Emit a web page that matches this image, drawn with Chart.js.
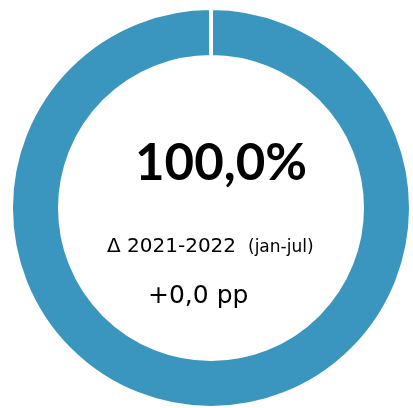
<!DOCTYPE html>
<html>
<head>
<meta charset="utf-8">
<script src="https://cdn.jsdelivr.net/npm/chart.js@4.4.0/dist/chart.umd.min.js"></script>
<style>
  html, body { margin: 0; padding: 0; background: #fff; overflow: hidden; }
  #wrap { width: 413px; height: 420px; }
</style>
</head>
<body>
<div id="wrap"><canvas id="ring"></canvas></div>
<script>
const labels = ['Participação', 'Restante'];
const shares = [100.0, 0.0];
const mainText = '100,0%';
const deltaText = '\u0394 2021-2022';
const periodText = '(jan-jul)';
const changeText = '+0,0 pp';

// center labels drawn over the hole
const centerText = {
  id: 'centerText',
  afterDraw(chart) {
    const arc = chart.getDatasetMeta(0).data[0];
    const cx = arc.x, cy = arc.y;
    const ctx = chart.ctx;
    ctx.save();
    ctx.fillStyle = '#000';
    ctx.textBaseline = 'alphabetic';
    ctx.textAlign = 'left';

    ctx.font = 'bold 51px Lato';
    ctx.fillText(mainText, cx - 76, cy - 28);

    ctx.font = '20px "DejaVu Sans"';
    ctx.fillText(deltaText, cx - 104, cy + 44);
    ctx.font = '17px "DejaVu Sans"';
    ctx.fillText(periodText, cx + 37, cy + 44);

    ctx.font = '25px "DejaVu Sans"';
    ctx.fillText(changeText, cx - 63, cy + 95);
    ctx.restore();
  }
};

new Chart(document.getElementById('ring'), {
  type: 'doughnut',
  data: {
    labels: labels,
    datasets: [{
      data: shares,
      backgroundColor: ['#3a96be', '#d9d9d9'],
      borderColor: '#ffffff',
      borderWidth: 4
    }]
  },
  options: {
    responsive: true,
    maintainAspectRatio: false,
    animation: false,
    cutout: '75.5%',
    layout: { padding: { left: 9, right: 0, top: 6, bottom: 10 } },
    plugins: {
      legend: { display: false },
      tooltip: { enabled: false }
    }
  },
  plugins: [centerText]
});
</script>
</body>
</html>
